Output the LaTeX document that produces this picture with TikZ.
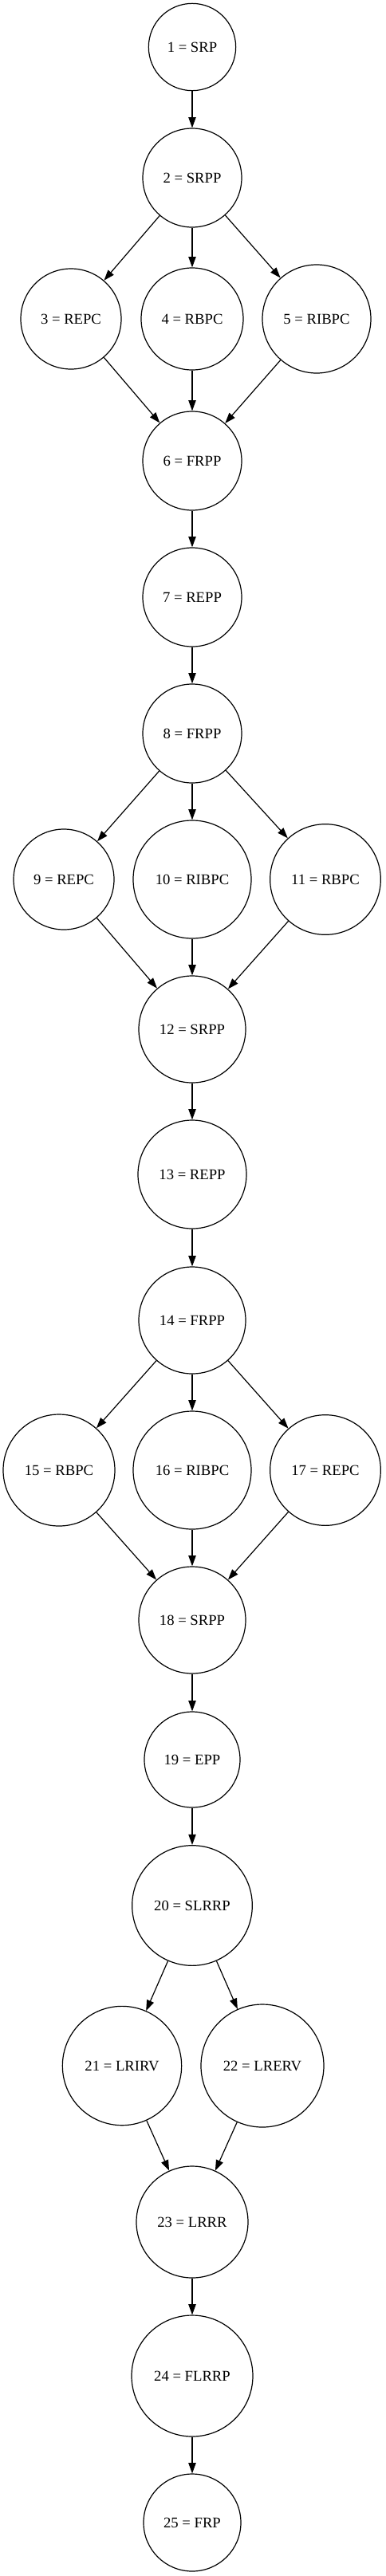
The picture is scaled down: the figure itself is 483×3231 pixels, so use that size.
\documentclass[tikz,border=0pt]{standalone}
\usepackage{fontspec}
\setmainfont{Liberation Serif}
\usetikzlibrary{arrows.meta}

\tikzset{op/.style={circle, draw, inner sep=0pt, font=\fontsize{14}{16}\selectfont}}

\begin{document}
\begin{tikzpicture}[x=0.75pt, y=-0.75pt, line width=0.9pt, >={Triangle[length=10pt,width=7pt]}]
\useasboundingbox (0,0) rectangle (483,3231);

\node (1) at (241,59) [op, minimum size=82pt] {1 = SRP};
\node (2) at (241,223) [op, minimum size=93pt] {2 = SRPP} edge[<-] (1);

	\node (3) at (89,400) [op, minimum size=94.5pt] {3 = REPC} edge[<-] (2);
	\node (4) at (241,400) [op, minimum size=96pt] {4 = RBPC} edge[<-] (2);
	\node (5) at (397,400) [op, minimum size=102pt] {5 = RIBPC} edge[<-] (2);

\node (6) at (241,578) [op, minimum size=93pt] {6 = FRPP} edge[<-] (3) edge[<-] (4) edge[<-] (5);
\node (7) at (241,749) [op, minimum size=93pt] {7 = REPP} edge[<-] (6);
\node (8) at (241,920) [op, minimum size=93pt] {8 = FRPP} edge[<-] (7);

	\node (9) at (80,1103) [op, minimum size=94.5pt] {9 = REPC} edge[<-] (8);
	\node (10) at (241,1103) [op, minimum size=111pt] {10 = RIBPC} edge[<-] (8);
	\node (11) at (408,1103) [op, minimum size=104pt] {11 = RBPC} edge[<-] (8);

\node (12) at (241,1291) [op, minimum size=100.5pt] {12 = SRPP} edge[<-] (9) edge[<-] (10) edge[<-] (11);
\node (13) at (241,1473) [op, minimum size=102pt] {13 = REPP} edge[<-] (12);
\node (14) at (241,1656) [op, minimum size=100.5pt] {14 = FRPP} edge[<-] (13);

	\node (15) at (74,1844) [op, minimum size=105pt] {15 = RBPC} edge[<-] (14);
	\node (16) at (241,1844) [op, minimum size=111pt] {16 = RIBPC} edge[<-] (14);
	\node (17) at (408,1844) [op, minimum size=104pt] {17 = REPC} edge[<-] (14);

\node (18) at (241,2032) [op, minimum size=100.5pt] {18 = SRPP} edge[<-] (15) edge[<-] (16) edge[<-] (17);
\node (19) at (241,2207) [op, minimum size=90pt] {19 = EPP} edge[<-] (18);
\node (20) at (241,2390) [op, minimum size=113pt] {20 = SLRRP} edge[<-] (19);

	\node (21) at (153,2591) [op, minimum size=112pt] {21 = LRIRV} edge[<-] (20);
	\node (22) at (329,2591) [op, minimum size=115.5pt] {22 = LRERV} edge[<-] (20);

\node (23) at (241,2787) [op, minimum size=105pt] {23 = LRRR} edge[<-] (21) edge[<-] (22);
\node (24) at (241,2980) [op, minimum size=114pt] {24 = FLRRP} edge[<-] (23);
\node (25) at (241,3164) [op, minimum size=91.5pt] {25 = FRP} edge[<-] (24);

\end{tikzpicture}
\end{document}
